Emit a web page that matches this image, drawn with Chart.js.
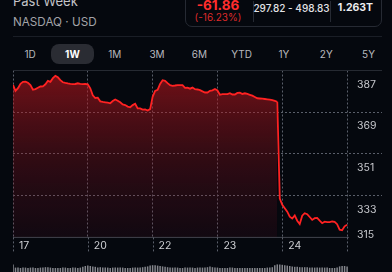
<!DOCTYPE html>
<html>
<head>
<meta charset="utf-8">
<script src="https://cdn.jsdelivr.net/npm/chart.js@4.4.1/dist/chart.umd.min.js"></script>
<style>
  body { margin: 0; width: 392px; height: 272px; overflow: hidden; position: relative;
         background: #05080e; font-family: Inter, "Noto Sans", sans-serif; color: #c8c8cc; }
  .abs { position: absolute; }
  .past { left: 13px; top: -7px; font-size: 13px; line-height: 16px; color: #c4c4c8; }
  .exch { left: 13px; top: 14px; font-size: 11.7px; line-height: 16px; color: #a2a3a8; }
  .caja { left: 185px; top: -10px; width: 195px; height: 35px; border: 1px solid #262a33; border-radius: 7px; }
  .caja div { position: absolute; text-align: center; white-space: nowrap; }
  .cambio { left: 0; width: 64px; top: 5px; font-size: 13.5px; font-weight: 700; color: #ff2d2d; line-height: 18px; }
  .pct { left: 0; width: 64px; top: 19px; font-size: 10px; color: #dd2a2a; line-height: 14px; }
  .rango { left: 67px; width: 77px; top: 9px; font-size: 10px; font-weight: 500; color: #e2e2e6; line-height: 16px; }
  .cap { left: 144px; width: 51px; top: 9px; font-size: 10.5px; font-weight: 700; color: #ececf0; line-height: 16px; }
  .sep { top: 10px; width: 1px; height: 21px; background: #262a33; }
  .linea { left: 13px; top: 36px; width: 369px; height: 1px; background: #1a1e26; }
  .tabs { left: 9px; top: 44px; height: 20px; display: flex; }
  .tabs span { width: 42.3px; text-align: center; font-size: 10px; line-height: 20px; color: #b8b9be; }
  .tabs span.on { color: #fff; font-weight: 700; background: #2a2c33; border-radius: 8px; }
  #grafico { left: 0; top: 0; width: 392px; height: 272px; }
  #volumen { left: 0; top: 258px; width: 392px; height: 40px; }
</style>
</head>
<body>
<div class="abs past">Past Week</div>
<div class="abs exch">NASDAQ · USD</div>
<div class="abs caja">
  <div class="cambio">-61.86</div>
  <div class="pct">(-16.23%)</div>
  <div class="sep" style="left:67px"></div>
  <div class="rango">297.82 - 498.83</div>
  <div class="sep" style="left:144px"></div>
  <div class="cap">1.263T</div>
</div>
<div class="abs linea"></div>
<div class="abs tabs">
  <span>1D</span><span class="on">1W</span><span>1M</span><span>3M</span><span>6M</span><span>YTD</span><span>1Y</span><span>2Y</span><span>5Y</span>
</div>
<div class="abs" id="volumen"><canvas id="vol-chart"></canvas></div>
<div class="abs" id="grafico"><canvas id="line-chart"></canvas></div>

<script>
  // Datos de la semana
  const dias = ['17', '20', '22', '23', '24'];
  const inicioDia = [0, 30, 56, 82, 108];
  const ticksY = [315, 333, 351, 369, 387];
  const precios = [
    380.84, 378.25, 379.41, 381.27, 382.13, 382.21, 381.70, 380.75, 378.68, 378.98,
    379.54, 380.10, 380.15, 381.05, 382.56, 382.13, 383.68, 384.67, 384.07, 382.82,
    381.91, 381.65, 381.44, 381.27, 381.14, 381.18, 381.48, 381.27, 381.14, 381.18,
    381.05, 379.33, 376.31, 375.14, 375.27, 373.68, 373.42, 373.29, 373.12, 372.86,
    373.81, 374.50, 373.98, 373.29, 372.39, 372.08, 371.44, 371.14, 372.08, 372.64,
    370.66, 370.66, 370.14, 370.19, 369.71, 370.36, 375.66, 378.21, 378.64, 381.18,
    382.82, 382.56, 381.53, 380.66, 380.40, 380.53, 380.71, 380.71, 380.71, 379.54,
    379.63, 379.15, 379.63, 378.94, 378.81, 378.55, 377.99, 377.52, 377.52, 378.25,
    378.42, 379.02, 378.38, 376.52, 376.78, 376.83, 376.83, 377.21, 376.65, 376.65,
    377.34, 377.47, 376.87, 377.17, 376.87, 376.52, 376.14, 375.58, 375.02, 374.93,
    374.84, 374.71, 374.58, 374.45, 374.20, 373.89, 373.51, 331.78, 329.10, 327.59,
    326.09, 323.93, 323.15, 324.49, 322.21, 320.78, 324.36, 325.44, 325.01, 323.80,
    322.55, 323.28, 323.37, 322.21, 321.13, 321.77, 321.56, 321.56, 321.86, 321.69,
    320.70, 318.33, 318.07, 319.79, 320.48
  ];
  const volumen = [
    42,
    38, 38, 37.5, 38, 38, 37.5, 38, 38, 37.5, 37.5, 38, 38, 38.5, 38.5, 38, 37.5, 37.5, 37.5, 37.5, 38, 38, 37.5, 37.5, 38, 38, 37.5, 38,
    39, 40, 40.5, 40, 39.5, 39,
    38, 38.5, 38, 38, 38, 37.5, 38, 38, 38, 38, 38, 37.5, 37.5, 37.5, 38, 38, 38, 38, 38.5, 39, 39.5,
    40.5, 41, 41, 40.5, 40, 39.5, 39,
    38.5, 38, 38, 38, 38, 37.5, 37.5, 38, 38, 38, 38, 37.5, 38, 38, 38, 38, 38.5,
    39.5, 38.5,
    38, 38, 37.5, 37.5, 37.5, 37.5, 38, 38, 37.5, 37.5, 37.5, 37.5, 37.5, 37.5, 37.5, 37.5, 37.5, 37.5, 37.5, 37.5, 37.5, 38, 38, 38.5,
    41, 42, 42, 41.5, 41, 40.5, 40, 39.5, 39,
    39, 38.5, 38.5, 38.5, 38.5, 38, 38, 38, 38, 38, 38, 38, 38, 37.5, 37.5, 37.5, 38,
    39.5, 40, 40, 39.5
  ];
  const corte = 106; // último punto antes de la caída, el relleno termina aquí

  const fin = precios.length - 1;
  const xMax = 148;
  const rojo = '#ff2222';
  const gris = '#5a5f6a';
  const rayas = [2, 2];

  Chart.defaults.font.family = 'Inter';

  const puntos = precios.map((p, i) => ({ x: i, y: p }));

  // Líneas sólidas arriba/abajo, marcas bajo el eje y etiquetas del eje derecho
  const extras = {
    id: 'extras',
    beforeDatasetsDraw(chart) {
      const { ctx, chartArea, scales } = chart;
      const yTop = scales.y.getPixelForValue(387);
      const yBot = scales.y.getPixelForValue(315);
      ctx.save();
      ctx.lineWidth = 1;
      ctx.strokeStyle = '#262a32';
      ctx.beginPath();
      ctx.moveTo(chartArea.left, yTop);
      ctx.lineTo(chartArea.right, yTop);
      ctx.stroke();
      ctx.strokeStyle = '#41454e';
      ctx.beginPath();
      ctx.moveTo(chartArea.left, yBot);
      ctx.lineTo(scales.x.getPixelForValue(fin) + 2, yBot);
      ctx.stroke();
      // marcas punteadas debajo del eje x
      ctx.strokeStyle = gris;
      ctx.setLineDash(rayas);
      inicioDia.concat([fin]).forEach(v => {
        const x = Math.round(scales.x.getPixelForValue(v)) + 0.5;
        ctx.beginPath();
        ctx.moveTo(x, yBot);
        ctx.lineTo(x, yBot + 16);
        ctx.stroke();
      });
      ctx.restore();
    },
    afterDraw(chart) {
      const { ctx, chartArea, scales } = chart;
      const xr = scales.x.getPixelForValue(fin) + 10;
      ctx.save();
      ctx.font = '10.5px Inter';
      ctx.fillStyle = '#c6c7cc';
      ctx.textAlign = 'left';
      ctx.textBaseline = 'middle';
      ticksY.forEach(v => {
        const y = Math.min(scales.y.getPixelForValue(v) + 14, chartArea.bottom - 3);
        ctx.fillText(String(v), xr, y);
      });
      ctx.restore();
    }
  };

  function relleno(context) {
    const area = context.chart.chartArea;
    if (!area) return 'rgba(120,20,25,0.4)';
    const g = context.chart.ctx.createLinearGradient(0, area.top, 0, area.bottom);
    g.addColorStop(0, 'rgba(200,24,30,0.58)');
    g.addColorStop(0.5, 'rgba(150,20,32,0.32)');
    g.addColorStop(1, 'rgba(110,18,40,0.12)');
    return g;
  }

  new Chart(document.getElementById('line-chart'), {
    type: 'line',
    data: {
      datasets: [{
        data: puntos.slice(0, corte + 1),
        borderColor: rojo,
        borderWidth: 1.8,
        backgroundColor: relleno,
        fill: 'start',
        pointRadius: 0,
        tension: 0
      }, {
        data: puntos.slice(corte),
        borderColor: rojo,
        borderWidth: 1.8,
        fill: false,
        pointRadius: 0,
        tension: 0
      }]
    },
    options: {
      responsive: true,
      maintainAspectRatio: false,
      animation: false,
      events: [],
      layout: { padding: { left: 13, right: 10, top: 70.5, bottom: 18 } },
      plugins: { legend: { display: false }, tooltip: { enabled: false } },
      scales: {
        x: {
          type: 'linear',
          min: 0,
          max: xMax,
          afterBuildTicks: axis => {
            axis.ticks = inicioDia.concat([fin]).map(v => ({ value: v }));
          },
          ticks: {
            callback: (v, i) => dias[i] || '',
            color: '#cfd0d4',
            font: { size: 10.5 },
            align: 'start',
            labelOffset: 6,
            padding: 2,
            maxRotation: 0,
            autoSkip: false
          },
          grid: { color: gris, lineWidth: 1, drawTicks: false },
          border: { display: false, dash: rayas }
        },
        y: {
          position: 'right',
          min: 315,
          max: 387,
          ticks: { display: false, stepSize: 18 },
          grid: {
            color: c => (c.tick.value === 315 || c.tick.value === 387) ? 'transparent' : gris,
            lineWidth: 1,
            drawTicks: false
          },
          border: { display: false, dash: rayas }
        }
      }
    },
    plugins: [extras]
  });

  // Barras de volumen (parte inferior, cortadas por la ventana)
  new Chart(document.getElementById('vol-chart'), {
    type: 'bar',
    data: {
      datasets: [{
        data: volumen.map((v, i) => ({ x: i, y: v })),
        backgroundColor: 'rgba(165,166,172,0.8)',
        barPercentage: 0.6,
        categoryPercentage: 1
      }]
    },
    options: {
      responsive: true,
      maintainAspectRatio: false,
      animation: false,
      events: [],
      layout: { padding: { left: 13, right: 10, top: 0, bottom: 0 } },
      plugins: { legend: { display: false }, tooltip: { enabled: false } },
      scales: {
        x: { type: 'linear', min: 0, max: xMax, offset: false, display: false },
        y: { min: 0, max: 50, display: false }
      }
    }
  });
</script>
</body>
</html>
